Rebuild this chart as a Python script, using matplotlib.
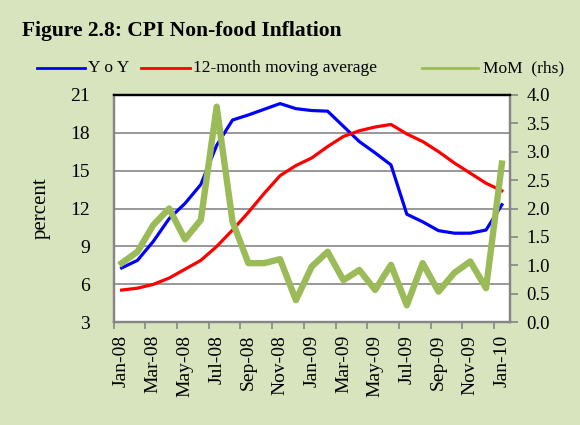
import numpy as np
import matplotlib
matplotlib.use("Agg")
from matplotlib import pyplot as plt
from matplotlib.lines import Line2D

plt.rcParams['font.family'] = ['Liberation Serif', 'DejaVu Serif']

months = ['Jan-08', 'Feb-08', 'Mar-08', 'Apr-08', 'May-08', 'Jun-08', 'Jul-08',
          'Aug-08', 'Sep-08', 'Oct-08', 'Nov-08', 'Dec-08', 'Jan-09', 'Feb-09',
          'Mar-09', 'Apr-09', 'May-09', 'Jun-09', 'Jul-09', 'Aug-09', 'Sep-09',
          'Oct-09', 'Nov-09', 'Dec-09', 'Jan-10']

yoy = [7.3, 7.9, 9.4, 11.2, 12.4, 13.9, 17.0, 19.0, 19.4, 19.85, 20.3, 19.9,
       19.75, 19.7, 18.5, 17.3, 16.4, 15.45, 11.55, 10.95, 10.25, 10.05, 10.05,
       10.3, 12.3]
mov_avg = [5.55, 5.7, 6.0, 6.5, 7.2, 7.9, 9.0, 10.3, 11.7, 13.2, 14.6, 15.4,
           16.0, 16.9, 17.7, 18.15, 18.45, 18.65, 17.9, 17.3, 16.5, 15.6, 14.8,
           14.0, 13.4]
mom = [1.04, 1.24, 1.71, 2.0, 1.46, 1.8, 3.79, 1.77, 1.04, 1.04, 1.11, 0.39,
       0.98, 1.24, 0.74, 0.92, 0.57, 1.01, 0.3, 1.04, 0.54, 0.87, 1.07, 0.6,
       2.79]

left_ticks = [3, 6, 9, 12, 15, 18, 21]
right_ticks = [0.0, 0.5, 1.0, 1.5, 2.0, 2.5, 3.0, 3.5, 4.0]

bg = '#D7E4BD'
grey = '#868686'
c_yoy, c_avg, c_mom = '#0000FF', '#FF0000', '#9BBB59'

fig = plt.figure(figsize=(5.8, 4.25), dpi=100, facecolor=bg)
ax = fig.add_axes([0.196, 0.2416, 0.683, 0.5355])
ax2 = ax.twinx()

x = np.arange(len(months))
ax.plot(x, yoy, color=c_yoy, lw=2.3, zorder=3)
ax.plot(x, mov_avg, color=c_avg, lw=2.3, zorder=3)
ax2.plot(x, mom, color=c_mom, lw=4.6, zorder=3)

ax.set_xlim(-0.5, len(months) - 0.5)
ax.set_ylim(3, 21)
ax.set_yticks(left_ticks)
ax.yaxis.grid(True, color=grey, lw=1.2)
ax.set_axisbelow(True)
ax2.set_ylim(0, 4)
ax2.set_yticks(right_ticks)
ax2.set_yticklabels(['%.1f' % t for t in right_ticks])

ax.set_xticks(x[::2])
ax.set_xticklabels(months[::2], rotation=90)
ax.set_xticks(np.arange(-0.5, len(months) - 1, 2), minor=True)
ax.tick_params(axis='x', which='major', length=0, pad=9, labelsize=14)
ax.tick_params(axis='x', which='minor', length=5, width=1.2, color=grey)
ax.tick_params(axis='y', length=0, pad=17, labelsize=14)
ax2.tick_params(axis='y', length=6, width=1.2, color=grey, pad=6, labelsize=13.5)

for a in (ax, ax2):
    for side in ('left', 'right', 'bottom'):
        a.spines[side].set_color(grey)
        a.spines[side].set_linewidth(1.6)
    a.spines['top'].set_color('black')
    a.spines['top'].set_linewidth(1.6)

ax.set_ylabel('percent', fontsize=15, labelpad=14)

fig.text(0.038, 0.928, 'Figure 2.8: CPI Non-food Inflation', fontsize=15.5,
         fontweight='bold', va='center', ha='left')

# legend drawn by hand to match the spacing of the original
leg_y = 1 - 68 / 425
legend_items = [(37, 85, 88, c_yoy, 'Y o Y'),
                (141, 190, 193, c_avg, '12-month moving average'),
                (422, 478, 483, c_mom, 'MoM  (rhs)')]
for x0, x1, xt, col, txt in legend_items:
    fig.add_artist(Line2D([x0 / 580, x1 / 580], [leg_y, leg_y], color=col, lw=2))
    fig.text(xt / 580, leg_y, txt, fontsize=12.5, va='center', ha='left')

fig.savefig('out.png', dpi=100, facecolor=bg)
